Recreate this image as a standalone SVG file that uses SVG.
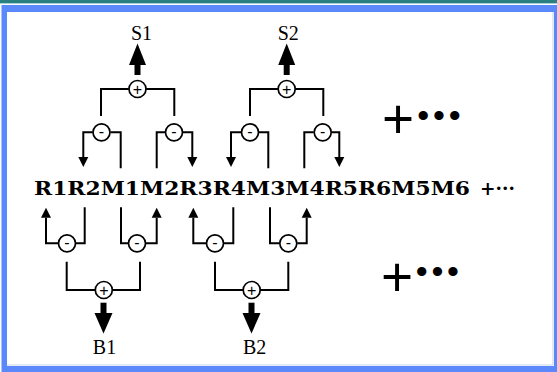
<svg xmlns="http://www.w3.org/2000/svg" width="557" height="372" viewBox="0 0 557 372">
<style>
.op{fill:#fff;stroke:#000;stroke-width:1.7}
.sg{font-family:"Liberation Sans",Arial,sans-serif;font-size:16px;fill:#000;text-anchor:middle}
.wire{fill:none;stroke:#000;stroke-width:2}
.fat{fill:none;stroke:#000;stroke-width:6}
.lbl{font-family:"Liberation Serif","Times New Roman",serif;font-size:20px;fill:#000;text-anchor:middle}
.row{font-family:"DejaVu Serif","Liberation Serif",serif;font-weight:bold;font-size:18.5px;fill:#000}
.more{font-family:"Liberation Sans",Arial,sans-serif;fill:#000}
</style>
<rect x="0" y="0" width="557" height="372" fill="#fff"/>
<rect x="0" y="0" width="557" height="3" fill="#2a7f80"/>
<rect x="0" y="3" width="557" height="1" fill="#a9cfd6"/>
<rect x="1.5" y="5" width="556" height="367" fill="#5b88fb"/>
<rect x="7" y="12" width="547" height="354" fill="#fff"/>
<path d="M553,12 V365 H7" fill="none" stroke="#c9d5ea" stroke-width="1"/>

<g id="connectors">
<!-- top group 1 -->
<path class="wire" d="M101,116 V89 H128.8 M146.2,89 H174.3 V116"/>
<path class="wire" d="M92.7,132.3 H83.3 V157"/>
<path class="wire" d="M110.7,132.3 H120.7 V168.3"/>
<path class="wire" d="M165,132.3 H156.7 V168.3"/>
<path class="wire" d="M183,132.3 H192.3 V157"/>
<!-- top group 2 -->
<path class="wire" d="M250,116 V89 H278 M295.4,89 H323.3 V116"/>
<path class="wire" d="M241,132.3 H231 V157"/>
<path class="wire" d="M259,132.3 H268.3 V168.3"/>
<path class="wire" d="M313.7,132.3 H304.3 V168.3"/>
<path class="wire" d="M331.7,132.3 H339.3 V157"/>
<!-- bottom group 1 -->
<path class="wire" d="M66.7,261.7 V290 H95 M112.7,290 H140 V261.7"/>
<path class="wire" d="M58,243.3 H46 V217.7"/>
<path class="wire" d="M76,243.3 H84.7 V207.3"/>
<path class="wire" d="M128,243.3 H121 V207.3"/>
<path class="wire" d="M146,243.3 H156.7 V217.7"/>
<!-- bottom group 2 -->
<path class="wire" d="M215,261.7 V290 H243 M260.4,290 H288.3 V261.7"/>
<path class="wire" d="M206,243.3 H193.3 V217.7"/>
<path class="wire" d="M224,243.3 H233.3 V207.3"/>
<path class="wire" d="M279.3,243.3 H270 V207.3"/>
<path class="wire" d="M297.3,243.3 H306.7 V217.7"/>
<!-- thick arrow shafts -->
<path class="fat" d="M137.5,75 V65"/>
<path class="fat" d="M286.7,75 V65"/>
<path class="fat" d="M103.5,302.7 V313"/>
<path class="fat" d="M251.5,302.7 V313"/>
<!-- thin arrowheads -->
<path d="M78.3,157 L88.3,157 L83.3,167 z" fill="#000"/>
<path d="M187.3,157 L197.3,157 L192.3,167 z" fill="#000"/>
<path d="M226,157 L236,157 L231,167 z" fill="#000"/>
<path d="M334.3,157 L344.3,157 L339.3,167 z" fill="#000"/>
<path d="M41,217.7 L51,217.7 L46,207.7 z" fill="#000"/>
<path d="M151.7,217.7 L161.7,217.7 L156.7,207.7 z" fill="#000"/>
<path d="M188.3,217.7 L198.3,217.7 L193.3,207.7 z" fill="#000"/>
<path d="M301.7,217.7 L311.7,217.7 L306.7,207.7 z" fill="#000"/>
<!-- thick arrowheads -->
<path d="M129,65 L146,65 L137.5,43.5 z" fill="#000"/>
<path d="M278.2,65 L295.2,65 L286.7,43.5 z" fill="#000"/>
<path d="M94.5,313 L112.5,313 L103.5,333.5 z" fill="#000"/>
<path d="M242.5,313 L260.5,313 L251.5,333.5 z" fill="#000"/>
</g>

<g id="sum-s1"><circle class="op" cx="137.5" cy="89" r="8.5"/><text class="sg" x="137.5" y="94.7">+</text></g>
<g id="sum-s2"><circle class="op" cx="286.7" cy="89" r="8.5"/><text class="sg" x="286.7" y="94.7">+</text></g>
<g id="sum-b1"><circle class="op" cx="103.8" cy="290" r="8.5"/><text class="sg" x="103.8" y="295.7">+</text></g>
<g id="sum-b2"><circle class="op" cx="251.7" cy="290" r="8.5"/><text class="sg" x="251.7" y="295.7">+</text></g>

<g id="diff-t1"><circle class="op" cx="101.5" cy="132.3" r="8.5"/><text class="sg" x="101.5" y="137.2">-</text></g>
<g id="diff-t2"><circle class="op" cx="174" cy="132.3" r="8.5"/><text class="sg" x="174" y="137.2">-</text></g>
<g id="diff-t3"><circle class="op" cx="250" cy="132.3" r="8.5"/><text class="sg" x="250" y="137.2">-</text></g>
<g id="diff-t4"><circle class="op" cx="322.7" cy="132.3" r="8.5"/><text class="sg" x="322.7" y="137.2">-</text></g>
<g id="diff-b1"><circle class="op" cx="67" cy="243.3" r="8.5"/><text class="sg" x="67" y="248.2">-</text></g>
<g id="diff-b2"><circle class="op" cx="137" cy="243.3" r="8.5"/><text class="sg" x="137" y="248.2">-</text></g>
<g id="diff-b3"><circle class="op" cx="215" cy="243.3" r="8.5"/><text class="sg" x="215" y="248.2">-</text></g>
<g id="diff-b4"><circle class="op" cx="288.3" cy="243.3" r="8.5"/><text class="sg" x="288.3" y="248.2">-</text></g>

<g id="label-s1"><text class="lbl" x="141.5" y="40">S1</text></g>
<g id="label-s2"><text class="lbl" x="288.3" y="40">S2</text></g>
<g id="label-b1"><text class="lbl" x="104.5" y="354">B1</text></g>
<g id="label-b2"><text class="lbl" x="254.7" y="353.5">B2</text></g>

<g id="sequence">
<text class="row" x="34" y="195" textLength="436" lengthAdjust="spacingAndGlyphs">R1R2M1M2R3R4M3M4R5R6M5M6</text>
<text class="row" x="480" y="195">+···</text>
</g>

<g id="more-top"><text class="more"><tspan x="382" y="137.8" font-size="55">+</tspan><tspan x="417.3" y="127.2" font-size="34" letter-spacing="3.8">•••</tspan></text></g>
<g id="more-bottom"><text class="more"><tspan x="381" y="295.5" font-size="55">+</tspan><tspan x="415.7" y="282.9" font-size="34" letter-spacing="3.8">•••</tspan></text></g>
</svg>
